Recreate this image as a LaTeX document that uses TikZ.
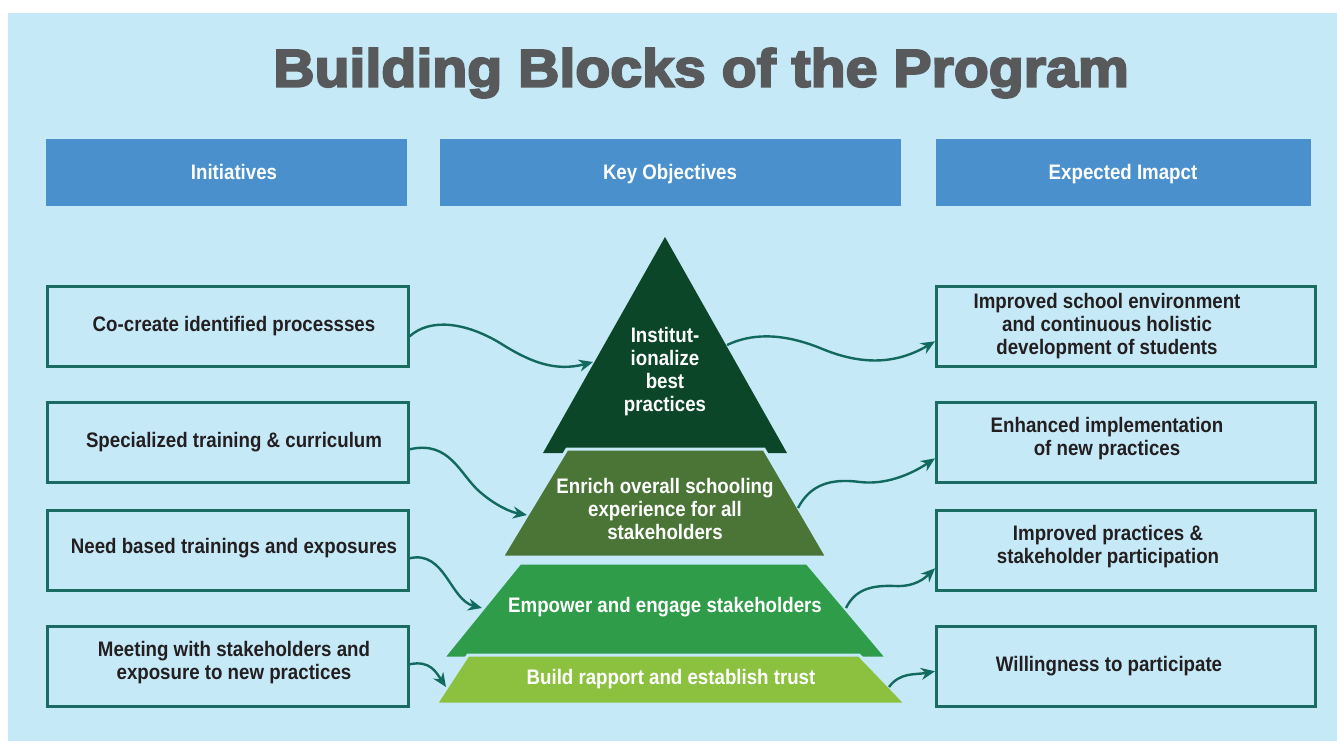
\documentclass[tikz,border=0pt]{standalone}
\usepackage{fontspec}
\setmainfont{Liberation Sans}[FakeStretch=0.89]
\newfontfamily\titlefont{Liberation Sans}[FakeStretch=1.08,FakeBold=4]
\usetikzlibrary{arrows.meta,calc}
\definecolor{bgc}{HTML}{C6E9F8}
\definecolor{hdrc}{HTML}{4A90CD}
\definecolor{boxc}{HTML}{1A6B61}
\definecolor{arrc}{HTML}{12695E}
\definecolor{txtc}{HTML}{231F20}
\definecolor{titlec}{HTML}{58595B}
\definecolor{tierA}{HTML}{0B4628}
\definecolor{tierB}{HTML}{4A7536}
\definecolor{tierC}{HTML}{2E9C48}
\definecolor{tierD}{HTML}{8CC140}
\tikzset{
  hdr/.style={fill=hdrc, inner sep=0pt, anchor=north west, minimum height=67bp},
  hdrtxt/.style={text=white, font=\fontsize{21bp}{23bp}\selectfont\bfseries, inner sep=0pt, text height=15bp, text depth=4bp},
  boxnode/.style={draw=boxc, line width=2.6bp, fill=bgc, inner sep=0pt, anchor=north west, minimum height=80bp},
  txt/.style={text=txtc, font=\fontsize{21bp}{23bp}\selectfont\bfseries, align=center, inner sep=0pt},
  ptxt/.style={text=white, font=\fontsize{21bp}{23bp}\selectfont\bfseries, align=center, inner sep=0pt},
  tier/.style={draw=bgc, line width=3bp, line join=miter},
  conn/.style={draw=arrc, line width=2.4bp, -{Stealth[length=14bp,width=12bp]}},
}
\begin{document}
\begin{tikzpicture}[x=1bp,y=-1bp]
\useasboundingbox (0,0) rectangle (1337,741);
\fill[white] (0,0) rectangle (1337,741);
\fill[bgc] (8,13) rectangle (1337,741);

% title
\node[text=titlec, font=\titlefont\fontsize{53bp}{60bp}\selectfont\bfseries, inner sep=0pt] (title) at (701,73) {Building Blocks of the Program};

% headers
\node[hdr, minimum width=361bp] (h1) at (46,139) {};
\node[hdr, minimum width=461bp] (h2) at (440,139) {};
\node[hdr, minimum width=375bp] (h3) at (936,139) {};
\node[hdrtxt] (ht1) at (234,174) {Initiatives};
\node[hdrtxt] (ht2) at (670,174) {Key Objectives};
\node[hdrtxt] (ht3) at (1123,174) {Expected Imapct};

% left boxes
\node[boxnode, minimum width=361bp] (l1) at (46,285) {};
\node[boxnode, minimum width=361bp] (l2) at (46,401) {};
\node[boxnode, minimum width=361bp] (l3) at (46,509) {};
\node[boxnode, minimum width=361bp] (l4) at (46,625) {};
\node[txt] (lt1) at (234,326) {Co-create identified processses};
\node[txt] (lt2) at (234,442) {Specialized training \& curriculum};
\node[txt] (lt3) at (234,548) {Need based trainings and exposures};
\node[txt] (lt4) at (234,663) {Meeting with stakeholders and\\exposure to new practices};

% right boxes
\node[boxnode, minimum width=379bp] (r1) at (935,285) {};
\node[boxnode, minimum width=379bp] (r2) at (935,401) {};
\node[boxnode, minimum width=379bp] (r3) at (935,509) {};
\node[boxnode, minimum width=379bp] (r4) at (935,625) {};
\node[txt] (rt1) at (1107,326) {Improved school environment\\and continuous holistic\\development of students};
\node[txt] (rt2) at (1107,439) {Enhanced implementation\\of new practices};
\node[txt] (rt3) at (1108,547) {Improved practices \&\\stakeholder participation};
\node[txt] (rt4) at (1109,666) {Willingness to participate};

% pyramid
\fill[tierA] (665,237) -- (787,453) -- (543,453) -- cycle;
\filldraw[tier, fill=tierB] (567,449) -- (764,449) -- (827,557) -- (502,557) -- cycle;
\filldraw[tier, fill=tierC] (520,563) -- (807,563) -- (887,658) -- (443,658) -- cycle;
\filldraw[tier, fill=tierD] (468,655) -- (859,655) -- (906,704) -- (436,704) -- cycle;

\node[ptxt] (p1) at (665,372) {Institut-\\ionalize\\best\\practices};
\node[ptxt] (p2) at (665,509) {Enrich overall schooling\\experience for all\\stakeholders};
\node[ptxt] (p3) at (665,607) {Empower and engage stakeholders};
\node[ptxt] (p4) at (671,679) {Build rapport and establish trust};

% connector end points on the pyramid
\coordinate (t1) at (593,362);
\coordinate (t2) at (527,515);
\coordinate (t3) at (482,608);
\coordinate (t4) at (446,687);
\coordinate (s1) at (727,345);
\coordinate (s2) at (798,508);
\coordinate (s3) at (846,608);
\coordinate (s4) at (889,687);

% left connectors
\draw[conn] ($(l1.east)+(0,10)$) .. controls (430,318) and (465,322) .. (500,343) .. controls (530,362) and (555,372) .. (t1);
\draw[conn] ($(l2.east)+(0,7)$) .. controls (450,440) and (460,475) .. (480,492) .. controls (495,505) and (510,512) .. (t2);
\draw[conn] ($(l3.east)+(0,8)$) .. controls (445,550) and (450,600) .. (t3);
\draw[conn] ($(l4.east)+(0,-2)$) .. controls (430,660) and (436,672) .. (t4);

% right connectors
\draw[conn] (s1) .. controls (750,334) and (780,332) .. (820,348) .. controls (860,365) and (895,365) .. ($(r1.west)+(0,15)$);
\draw[conn] (s2) .. controls (810,485) and (830,478) .. (860,482) .. controls (885,485) and (910,475) .. ($(r2.west)+(0,16)$);
\draw[conn] (s3) .. controls (855,590) and (870,585) .. (895,586) .. controls (915,587) and (925,578) .. ($(r3.west)+(0,18)$);
\draw[conn] (s4) .. controls (900,672) and (915,675) .. ($(r4.west)+(0,5)$);
\end{tikzpicture}
\end{document}
